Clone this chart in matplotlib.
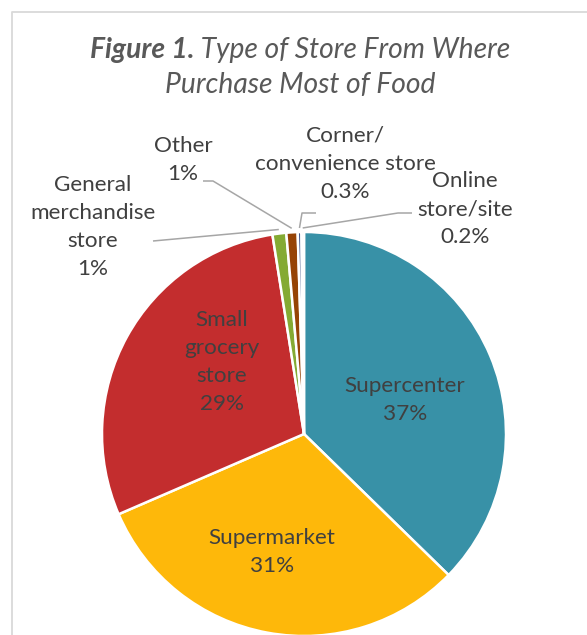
import matplotlib
matplotlib.use("Agg")
import matplotlib.pyplot as plt
import numpy as np

# Datos (porcentajes)
categories = ["Supercenter", "Supermarket", "Small grocery store",
              "General merchandise store", "Other",
              "Corner/convenience store", "Online store/site"]
shares = [37.3, 31.2, 29.0, 1.1, 0.9, 0.3, 0.2]
pct_labels = ["37%", "31%", "29%", "1%", "1%", "0.3%", "0.2%"]
label_names = ["Supercenter", "Supermarket", "Small\ngrocery\nstore",
               "General\nmerchandise\nstore", "Other",
               "Corner/\nconvenience store", "Online\nstore/site"]
colors = ["#3891A7", "#FEB80A", "#C32D2E", "#84AA33", "#964305", "#475A8D", "#225765"]

W, H = 587, 635
FONT = "Lato"
TXT = "#404040"
LINE = "#A6A6A6"
LSIZE = 16.2
LSPACE = 1.5


def px(x, y):
    """Pasa coordenadas de píxel (origen arriba) a coordenadas de datos."""
    return x, H - y


fig = plt.figure(figsize=(W / 100, H / 100), dpi=100)
ax = fig.add_axes([0, 0, 1, 1])

cx, cy = px(304, 434)
R = 202
wedges, _ = ax.pie(shares, colors=colors, startangle=90, counterclock=False,
                   radius=R, center=(cx, cy),
                   wedgeprops=dict(edgecolor="white", linewidth=1.8))
ax.set_xlim(0, W)
ax.set_ylim(0, H)
ax.set_aspect("equal")
ax.axis("off")

# Etiquetas dentro de los sectores grandes
inside_pos = [(405, 400), (272, 552), (222, 362)]
for i, (x, y) in enumerate(inside_pos):
    ax.text(*px(x, y), label_names[i] + "\n" + pct_labels[i], ha="center", va="center",
            fontsize=LSIZE, color=TXT, family=FONT, linespacing=LSPACE)


def edge_point(w, scale=1.02):
    ang = np.deg2rad((w.theta1 + w.theta2) / 2)
    return cx + R * scale * np.cos(ang), cy + R * scale * np.sin(ang)


# Etiquetas exteriores con líneas guía: (centro texto, puntos de la línea)
outside = {
    3: ((93, 227), [(153, 241)]),
    4: ((183, 160), [(203, 181), (213, 181)]),
    5: ((345, 164), [(316, 213), (302, 213)]),
    6: ((465, 209), [(412, 213), (398, 213)]),
}
for i, ((x, y), pts) in outside.items():
    ax.text(*px(x, y), label_names[i] + "\n" + pct_labels[i], ha="center", va="center",
            fontsize=LSIZE, color=TXT, family=FONT, linespacing=LSPACE)
    path = [px(*p) for p in pts] + [edge_point(wedges[i])]
    xs, ys = zip(*path)
    ax.plot(xs, ys, color=LINE, lw=1.1, solid_capstyle="butt")

# Marco del área del gráfico (recortado)
bx, by = zip(px(12, H + 10), px(12, 12), px(W + 10, 12))
ax.plot(bx, by, color="#D9D9D9", lw=1.3, clip_on=False)

# Título: "Figure 1." en negrita cursiva y el resto en cursiva
renderer = fig.canvas.get_renderer()
tsize = 20.3
t1 = ax.text(0, 0, "Figure 1.", fontsize=tsize, style="italic", weight="bold",
             color="#595959", family=FONT, va="center")
t2 = ax.text(0, 0, " Type of Store From Where", fontsize=tsize, style="italic",
             color="#595959", family=FONT, va="center")
w1 = t1.get_window_extent(renderer).width
w2 = t2.get_window_extent(renderer).width
x0 = 300 - (w1 + w2) / 2
t1.set_position(px(x0, 50))
t2.set_position(px(x0 + w1, 50))
ax.text(*px(300, 85), "Purchase Most of Food", fontsize=tsize, style="italic",
        color="#595959", family=FONT, ha="center", va="center")

fig.savefig("out.png", dpi=100)
